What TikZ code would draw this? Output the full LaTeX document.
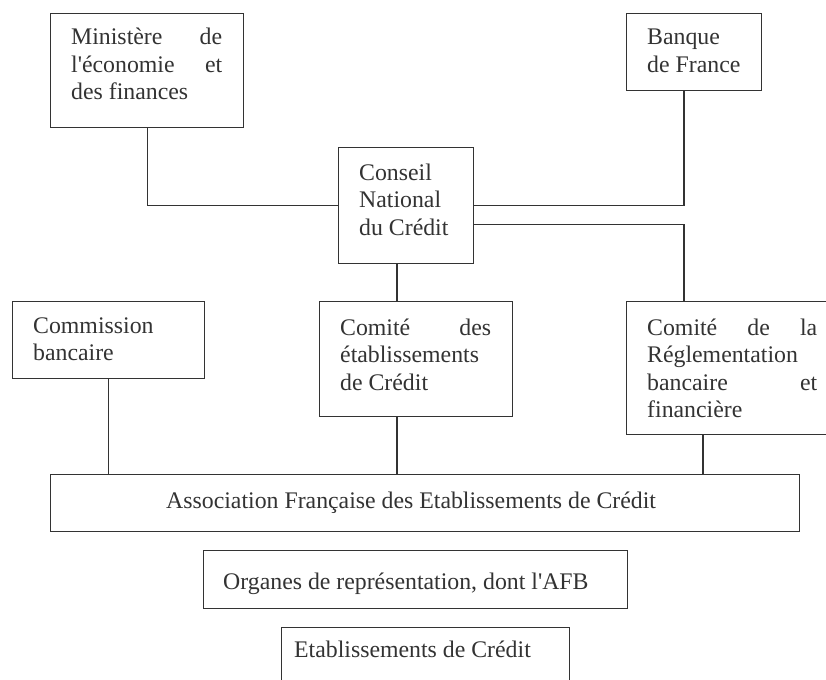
\documentclass[tikz,border=0pt]{standalone}
\usepackage{fontspec}
\setmainfont{Liberation Serif}
\usetikzlibrary{calc}
\definecolor{ink}{HTML}{333333}
\begin{document}
\begin{tikzpicture}[x=1pt,y=-1pt,
  bx/.style={draw=ink, line width=1.3pt, rectangle, inner sep=0pt, anchor=north west},
  tx/.style={inner sep=0pt, anchor=base west, text=ink, font=\fontsize{23.8}{27.5}\selectfont},
  ln/.style={draw=ink, line width=1.3pt}]
\useasboundingbox (0,0) rectangle (826,679);
\fill[white] (0,0) rectangle (826,679);
% boxes
\node[bx, minimum width=193pt, minimum height=114pt] (min) at (50,13) {};
\node[bx, minimum width=135pt, minimum height=77pt] (ban) at (626,13) {};
\node[bx, minimum width=135pt, minimum height=116pt] (cnc) at (338,147) {};
\node[bx, minimum width=192pt, minimum height=77pt] (com) at (12,301) {};
\node[bx, minimum width=193pt, minimum height=115pt] (ce) at (319,301) {};
\node[bx, minimum width=214pt, minimum height=133pt] (reg) at (626,301) {};
\node[bx, minimum width=749pt, minimum height=57pt] (afe) at (50,474) {};
\node[bx, minimum width=424pt, minimum height=58pt] (org) at (203,550) {};
\node[bx, minimum width=288pt, minimum height=70pt] (eta) at (281,627) {};
% texts
\node[tx] (minT) at (71,45) {\parbox[t]{151pt}{Ministère\hfill de\\l\textquotesingle économie\hfill et\\des finances}};
\node[tx] (banT) at (647,45) {\parbox[t]{110pt}{Banque\\de France}};
\node[tx] (cncT) at (359,180) {\parbox[t]{110pt}{Conseil\\National\\du Crédit}};
\node[tx] (comT) at (33,333) {\parbox[t]{160pt}{Commission\\bancaire}};
\node[tx] (ceT) at (340,335) {\parbox[t]{151pt}{Comité\hfill des\\établissements\\de Crédit}};
\node[tx] (regT) at (647,335) {\parbox[t]{170pt}{Comité\hfill de\hfill la\\Réglementation\\bancaire\hfill et\\financière}};
\node[tx] (afeT) at (166,508) {Association Française des Etablissements de Crédit};
\node[tx] (orgT) at (223,589) {Organes de représentation, dont l\textquotesingle AFB};
\node[tx] (etaT) at (294,657) {Etablissements de Crédit};
% connector columns
\coordinate (cb) at (684,0);
\coordinate (cm) at (397,0);
\coordinate (cr) at (703,0);
% connectors
\draw[ln] (min.south) |- (cnc.west);
\draw[ln] (ban.south -| cb) |- (cnc.east);
\draw[ln] ([yshift=-19pt]cnc.east) -| (reg.north -| cb);
\draw[ln] (cnc.south -| cm) -- (ce.north -| cm);
\draw[ln] (com.south) -- (com.south |- afe.north);
\draw[ln] (ce.south -| cm) -- (afe.north -| cm);
\draw[ln] (reg.south -| cr) -- (afe.north -| cr);
\end{tikzpicture}
\end{document}
